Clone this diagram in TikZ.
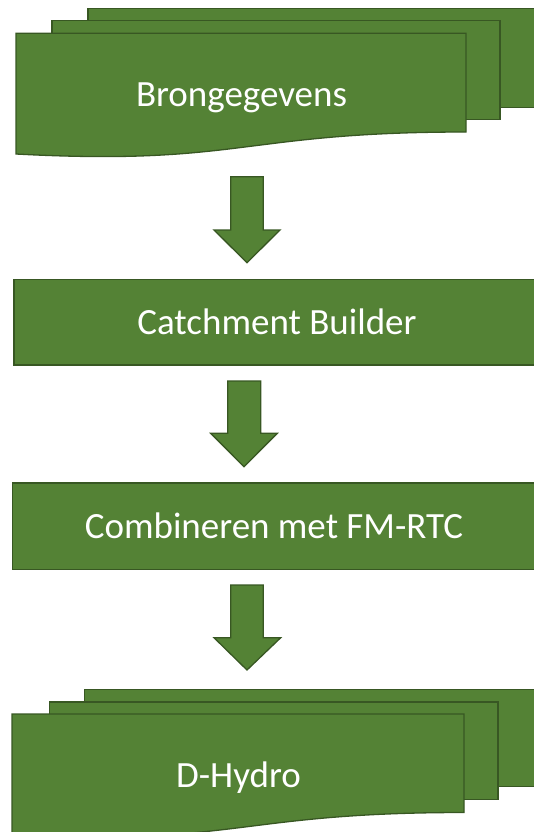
\documentclass[tikz,border=0pt]{standalone}
\usepackage{fontspec}
\setmainfont{Carlito}
\definecolor{boxfill}{HTML}{548235}
\definecolor{boxline}{HTML}{385723}
\tikzset{
  shapebox/.style={fill=boxfill, draw=boxline, line width=1.3pt, line join=miter},
  label/.style={text=white, font=\fontsize{37}{44}\selectfont, inner sep=0pt, anchor=base},
  blockarrow/.style={fill=boxfill, draw=boxline, line width=1.3pt, line join=miter}
}
\begin{document}
\begin{tikzpicture}[x=1pt,y=-1pt]
\useasboundingbox (0,0) rectangle (534,832);
\clip (0,0) rectangle (534,832);
% --- top multi-document: Brongegevens
\draw[shapebox] (88,8.3) rectangle (548,107.3);
\draw[shapebox] (52,20.7) rectangle (500,119.3);
\draw[shapebox] (16,33.3) -- (466,33.3) -- (466,132)
   .. controls (241,132) and (241,166) .. (16,154) -- cycle;
\node[label] (bron) at (241.5,107) {Brongegevens};
% arrow 1
\coordinate (a1) at (247,176.7);
\draw[blockarrow] (230.7,176.7) -- (263.3,176.7) -- (263.3,230) -- (280,230)
   -- (247,262.7) -- (214,230) -- (230.7,230) -- cycle;
% --- Catchment Builder
\draw[shapebox] (14,279.5) rectangle (545,365);
\node[label] (catch) at (277,334) {Catchment Builder};
% arrow 2
\draw[blockarrow] (227.7,381) -- (260.7,381) -- (260.7,433.3) -- (277.3,433.3)
   -- (244,466.7) -- (210.7,433.3) -- (227.7,433.3) -- cycle;
% --- Combineren met FM-RTC
\draw[shapebox] (12.3,483) rectangle (545,569.5);
\node[label] (comb) at (274,538.5) {Combineren met FM-RTC};
% arrow 3
\draw[blockarrow] (230.7,585) -- (263.3,585) -- (263.3,637.7) -- (280.7,637.7)
   -- (247,670) -- (214,637.7) -- (230.7,637.7) -- cycle;
% --- bottom multi-document: D-Hydro
\draw[shapebox] (84.5,689.3) rectangle (548,786.7);
\draw[shapebox] (49.7,702) rectangle (498,799.3);
\draw[shapebox] (12,714) -- (464,714) -- (464,812.5)
   .. controls (238,812.5) and (238,846) .. (12,834.7) -- cycle;
\node[label] (hydro) at (238.5,787.7) {D-Hydro};
\end{tikzpicture}
\end{document}
